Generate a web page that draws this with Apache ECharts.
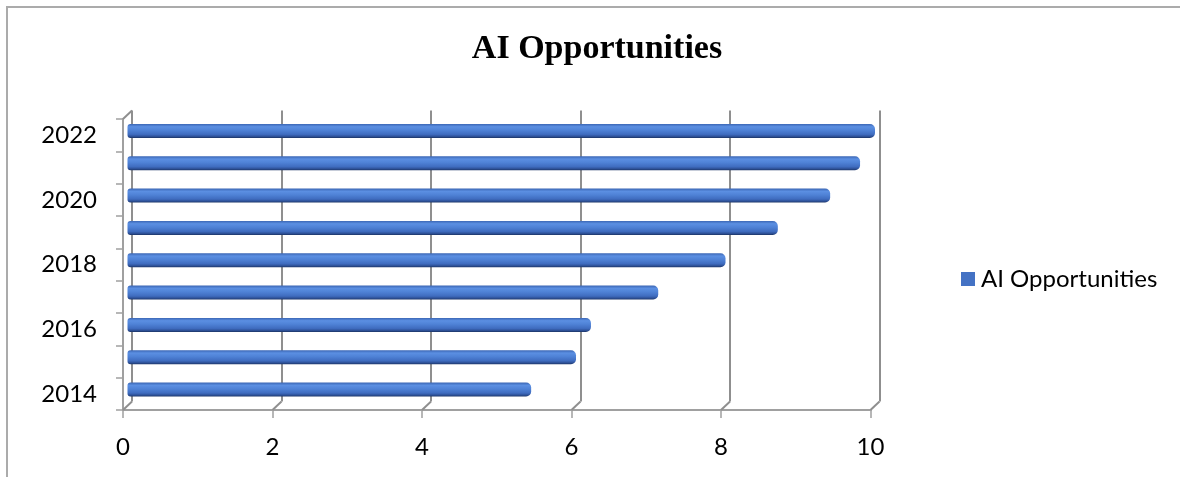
<!DOCTYPE html>
<html>
<head>
<meta charset="utf-8">
<script src="https://cdn.jsdelivr.net/npm/echarts@6/dist/echarts.min.js"></script>
<style>
  html, body { margin: 0; padding: 0; background: #fff; overflow: hidden; width: 1180px; height: 477px; }
  #chart { position: absolute; left: 0; top: 0; width: 1180px; height: 477px; }
  #frame { position: absolute; left: 6px; top: 6px; width: 1172px; height: 469px;
           border-top: 2px solid #ababab; border-left: 2px solid #ababab; pointer-events: none; }
</style>
</head>
<body>
<div id="chart"></div>
<div id="frame"></div>
<script>
// ---- data ----
const titleText = 'AI Opportunities';
const seriesName = 'AI Opportunities';
const categories = ['2014', '2015', '2016', '2017', '2018', '2019', '2020', '2021', '2022'];
const values = [5.4, 6.0, 6.2, 7.1, 8.0, 8.7, 9.4, 9.8, 10.0];
const xTicks = [0, 2, 4, 6, 8, 10];

// ---- layout ----
const W = 747.5, H = 291;
const back = { left: 132, top: 110.5 };
const front = { left: 123, top: 119 };
const mid = { left: (back.left + front.left) / 2, top: (back.top + front.top) / 2 };
const DX = back.left - front.left, DY = back.top - front.top;
const axisGray = '#a0a0a0';
const gridGray = '#8f8f8f';
const labelFont = 'Lato, "Open Sans", sans-serif';

const chart = echarts.init(document.getElementById('chart'));

const valueAxis = (gi, extra) => Object.assign({
  type: 'value', gridIndex: gi, min: xTicks[0], max: xTicks[xTicks.length - 1],
  interval: xTicks[1] - xTicks[0]
}, extra);

chart.setOption({
  animation: false,
  title: {
    text: titleText, left: 597, top: 32, textAlign: 'center', padding: 0,
    textStyle: { fontFamily: '"Liberation Serif", serif', fontWeight: 'bold', fontSize: 34, color: '#000' }
  },
  legend: {
    data: [{ name: seriesName, itemStyle: { color: '#4472c4' } }],
    left: 961, top: 267, padding: 0, itemWidth: 14, itemHeight: 14, itemGap: 5,
    icon: 'rect',
    textStyle: { fontFamily: labelFont, fontSize: 24, color: '#000', padding: [0, 0, 0, 1] }
  },
  grid: [
    { left: back.left, top: back.top, width: W, height: H },
    { left: mid.left, top: mid.top, width: W, height: H },
    { left: front.left, top: front.top, width: W, height: H }
  ],
  xAxis: [
    valueAxis(0, {
      axisLine: { show: false }, axisTick: { show: false }, axisLabel: { show: false },
      splitLine: { show: true, lineStyle: { color: gridGray, width: 2 } }
    }),
    valueAxis(1, { show: false }),
    valueAxis(2, {
      axisLine: { show: true, lineStyle: { color: axisGray, width: 2 } },
      axisTick: { show: true, length: 8, lineStyle: { color: axisGray, width: 1.5 } },
      axisLabel: { fontFamily: labelFont, fontSize: 24, color: '#000', margin: 25 },
      splitLine: { show: false }
    })
  ],
  yAxis: [
    { type: 'category', gridIndex: 0, data: categories, show: false },
    { type: 'category', gridIndex: 1, data: categories, show: false },
    {
      type: 'category', gridIndex: 2, data: categories,
      axisLine: { show: true, lineStyle: { color: axisGray, width: 2 } },
      axisTick: { show: true, interval: 0, length: 7, lineStyle: { color: axisGray, width: 1.5 } },
      axisLabel: { interval: 1, fontFamily: labelFont, fontSize: 24, color: '#000', margin: 26 },
      splitLine: { show: false }
    }
  ],
  series: [
    {
      type: 'custom', name: '_depth', xAxisIndex: 2, yAxisIndex: 2, silent: true, z: 1,
      data: xTicks,
      renderItem: function (params, api) {
        const v = api.value(0);
        const cs = params.coordSys;
        const x = api.coord([v, 0])[0];
        const bottom = cs.y + cs.height;
        const st = { stroke: gridGray, lineWidth: 2, fill: null };
        const children = [{ type: 'line', shape: { x1: x, y1: bottom, x2: x + DX, y2: bottom + DY }, style: st }];
        if (v === xTicks[0]) {
          children.push({ type: 'line', shape: { x1: cs.x, y1: cs.y, x2: cs.x + DX, y2: cs.y + DY }, style: st });
        }
        return { type: 'group', children: children };
      }
    },
    {
      type: 'bar', name: seriesName, xAxisIndex: 1, yAxisIndex: 1, z: 3,
      data: values, barWidth: 14,
      itemStyle: {
        borderRadius: [3, 5, 5, 3],
        color: new echarts.graphic.LinearGradient(0, 0, 0, 1, [
          { offset: 0, color: '#3b66b4' },
          { offset: 0.2, color: '#5b8fe2' },
          { offset: 0.45, color: '#4f82d6' },
          { offset: 0.75, color: '#3f6cbf' },
          { offset: 0.9, color: '#2d5096' },
          { offset: 1, color: '#1c3566' }
        ])
      }
    }
  ]
});
</script>
</body>
</html>
